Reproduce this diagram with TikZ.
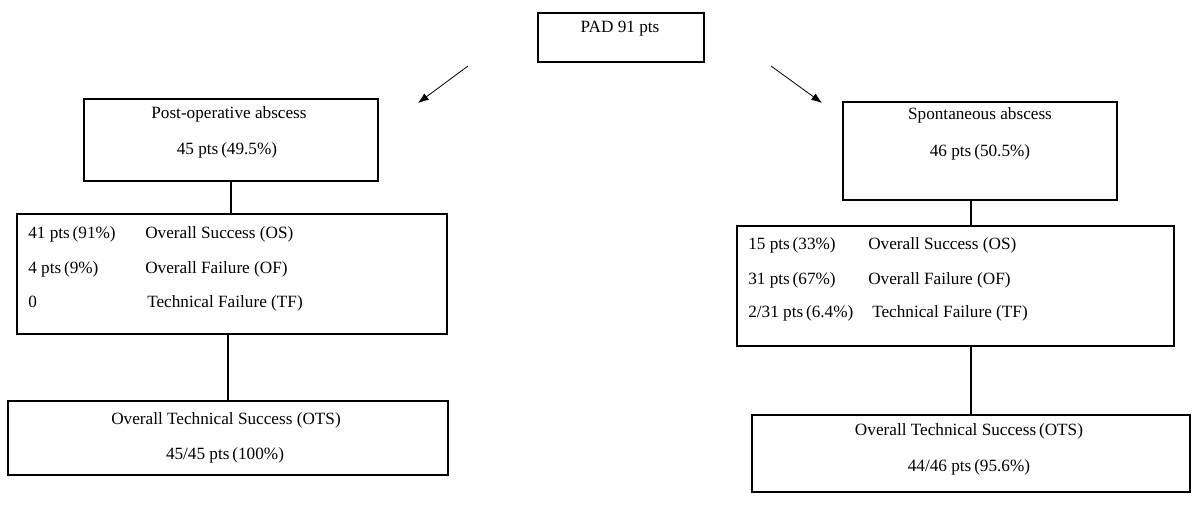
\documentclass[tikz,border=0pt]{standalone}
\usepackage{fontspec}
\setmainfont{Liberation Serif}
\usetikzlibrary{arrows.meta}

\begin{document}
\begin{tikzpicture}[x=0.75pt, y=-0.75pt,
  >={Latex[length=8pt, width=6pt]},
  every node/.style={
    font=\fontsize{12.9}{15}\selectfont
  },
  box/.style={
    rectangle,
    draw,
    line width=0.8pt,
    inner sep=0pt
  },
  txt/.style={
    inner sep=0pt,
    anchor=base
  },
  lefttxt/.style={
    inner sep=0pt,
    anchor=base west
  },
  arrow/.style={
    ->,
    line width=0.6pt
  },
  link/.style={
    line width=0.8pt
  }
  ]

  \useasboundingbox (0,0) rectangle (1200,505);

  % baselines of the rows in the two result boxes
  \pgfmathsetmacro{\la}{239}
  \pgfmathsetmacro{\lb}{274}
  \pgfmathsetmacro{\lc}{308}
  \pgfmathsetmacro{\ra}{250}
  \pgfmathsetmacro{\rb}{285}
  \pgfmathsetmacro{\rc}{318}

  \node [box, minimum width=124.5pt, minimum height=36.75pt] (pad) at (621,37.5) {};
  \node [txt] (padt) at (620,33) {PAD 91 pts};

  \node [box, minimum width=220.5pt, minimum height=61.5pt] (post) at (231,140) {};
  \node [txt] (posta) at (229,119) {Post-operative abscess};
  \node [txt] (postb) at (227,155) {45 pts\,(49.5\%)};

  \node [box, minimum width=205.5pt, minimum height=73.5pt] (spont) at (980,151) {};
  \node [txt] (sponta) at (980,120) {Spontaneous abscess};
  \node [txt] (spontb) at (980,157) {46 pts\,(50.5\%)};

  \node [box, minimum width=322.5pt, minimum height=90pt] (lmid) at (232,274) {};
  \node [lefttxt] (lmida) at (28,\la) {41 pts\,(91\%)};
  \node [lefttxt] (lmidb) at (28,\lb) {4 pts\,(9\%)};
  \node [lefttxt] (lmidc) at (28,\lc) {0};
  \node [lefttxt] (lmidos) at (145,\la) {Overall Success (OS)};
  \node [lefttxt] (lmidof) at (145,\lb) {Overall Failure (OF)};
  \node [lefttxt] (lmidtf) at (147,\lc) {Technical Failure (TF)};

  \node [box, minimum width=327.75pt, minimum height=90pt] (rmid) at (955.5,286) {};
  \node [lefttxt] (rmida) at (748,\ra) {15 pts\,(33\%)};
  \node [lefttxt] (rmidb) at (748,\rb) {31 pts\,(67\%)};
  \node [lefttxt] (rmidc) at (748,\rc) {2/31 pts\,(6.4\%)};
  \node [lefttxt] (rmidos) at (868,\ra) {Overall Success (OS)};
  \node [lefttxt] (rmidof) at (868,\rb) {Overall Failure (OF)};
  \node [lefttxt] (rmidtf) at (872,\rc) {Technical Failure (TF)};

  \node [box, minimum width=330pt, minimum height=55.5pt] (lbot) at (228,438) {};
  \node [txt] (lbota) at (226,425) {Overall Technical Success (OTS)};
  \node [txt] (lbotb) at (225,460) {45/45 pts\,(100\%)};

  \node [box, minimum width=328.5pt, minimum height=57.75pt] (rbot) at (971,453.5) {};
  \node [txt] (rbota) at (969,436) {Overall Technical Success\,(OTS)};
  \node [txt] (rbotb) at (969,472) {44/46 pts\,(95.6\%)};

  \coordinate (lfrom) at (468,66);
  \coordinate (lto) at (418,103);
  \coordinate (rfrom) at (771,66);
  \coordinate (rto) at (822,103);

  \draw [arrow] (lfrom) -- (lto);
  \draw [arrow] (rfrom) -- (rto);

  \draw [link] (post.south) -- (post.south |- lmid.north);
  \draw [link] (lbot.north |- lmid.south) -- (lbot.north);
  \draw [link] (spont.south -| rbot.north) -- (rmid.north -| rbot.north);
  \draw [link] (rbot.north |- rmid.south) -- (rbot.north);

\end{tikzpicture}
\end{document}
